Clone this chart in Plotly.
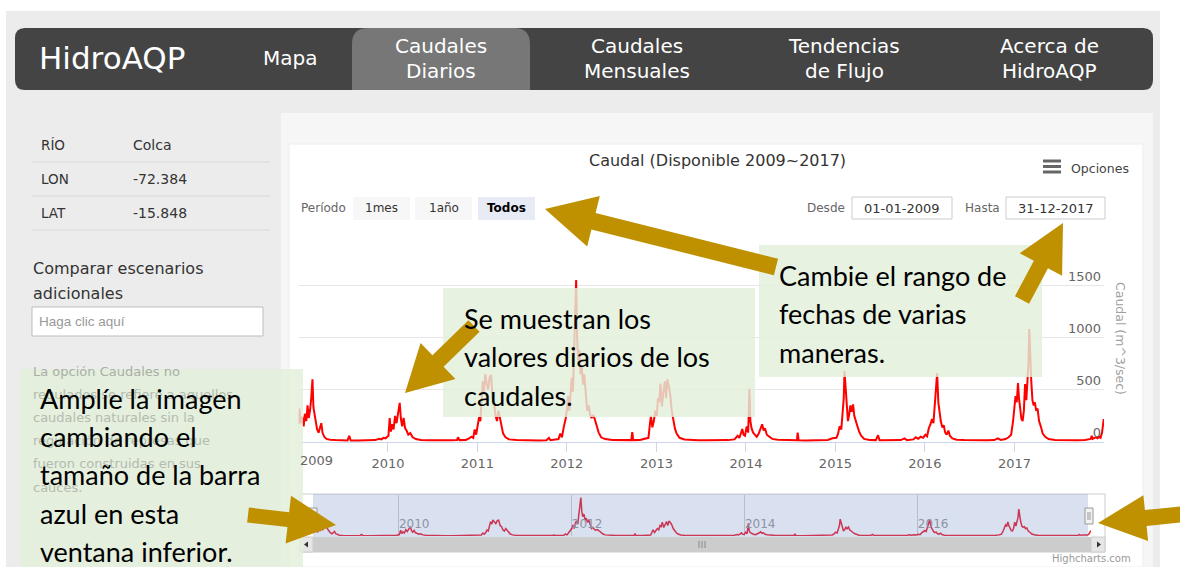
import math
import plotly.graph_objects as go

W, H = 1180, 567

# ---------------- DATA ----------------
# daily discharge of the Colca river, sampled at the visible turning points (m^3/s)
q2009 = [("01-01", 170), ("01-05", 320), ("01-10", 180), ("01-16", 240), ("01-22", 150), ("01-27", 270),
         ("02-02", 200), ("02-07", 350), ("02-12", 230), ("02-17", 300), ("02-22", 420), ("02-27", 600),
         ("03-03", 330), ("03-08", 250), ("03-13", 160), ("03-18", 120), ("03-24", 90), ("03-30", 150),
         ("04-04", 180), ("04-09", 90), ("04-16", 50), ("04-25", 30), ("05-10", 22), ("06-01", 18),
         ("06-25", 16), ("07-20", 15), ("07-27", 60), ("08-02", 15), ("08-30", 14), ("09-25", 16),
         ("10-20", 20), ("11-10", 18), ("11-26", 30), ("12-05", 25), ("12-14", 40), ("12-22", 35)]
q2010 = [("01-03", 60), ("01-08", 230), ("01-13", 100), ("01-18", 170), ("01-24", 120), ("01-30", 250),
         ("02-05", 180), ("02-12", 300), ("02-18", 375), ("02-23", 220), ("02-28", 150), ("03-06", 230),
         ("03-12", 130), ("03-18", 110), ("03-25", 70), ("04-02", 85), ("04-12", 45), ("04-25", 28),
         ("05-15", 20), ("06-15", 17), ("07-15", 15), ("08-15", 14), ("09-15", 16), ("10-10", 18),
         ("10-14", 45), ("10-20", 18), ("11-15", 20), ("11-28", 35), ("12-08", 50), ("12-15", 40),
         ("12-21", 120), ("12-27", 70)]
q2011 = [("01-03", 150), ("01-08", 240), ("01-13", 200), ("01-18", 420), ("01-23", 580), ("01-28", 480),
         ("02-02", 650), ("02-08", 560), ("02-14", 500), ("02-20", 620), ("02-26", 640), ("03-04", 420),
         ("03-10", 380), ("03-16", 250), ("03-22", 200), ("03-28", 300), ("04-03", 220), ("04-09", 140),
         ("04-16", 80), ("04-26", 45), ("05-10", 25), ("06-10", 18), ("07-10", 16), ("08-10", 15),
         ("09-10", 15), ("10-10", 17), ("10-20", 40), ("10-26", 17), ("11-15", 20), ("11-28", 28),
         ("12-05", 80), ("12-12", 45), ("12-20", 150), ("12-27", 220)]
q2012 = [("01-02", 320), ("01-06", 440), ("01-11", 300), ("01-16", 520), ("01-21", 615), ("01-26", 480),
         ("01-31", 900), ("02-04", 1100), ("02-08", 1550), ("02-12", 1000), ("02-16", 780), ("02-21", 880),
         ("02-26", 650), ("03-02", 720), ("03-07", 550), ("03-12", 650), ("03-18", 420), ("03-24", 300),
         ("03-30", 350), ("04-05", 260), ("04-11", 230), ("04-18", 260), ("04-25", 210), ("05-02", 150),
         ("05-10", 90), ("05-20", 45), ("06-05", 28), ("07-05", 20), ("08-05", 17), ("09-05", 16),
         ("09-20", 18), ("09-24", 95), ("09-28", 18), ("10-25", 20), ("11-20", 30), ("11-29", 40),
         ("12-04", 150), ("12-09", 250), ("12-15", 140), ("12-21", 200), ("12-27", 300)]
q2013 = [("01-02", 250), ("01-07", 420), ("01-12", 380), ("01-17", 560), ("01-23", 340), ("01-29", 480),
         ("02-04", 580), ("02-09", 420), ("02-14", 600), ("02-20", 540), ("02-26", 450), ("03-04", 300),
         ("03-10", 200), ("03-17", 130), ("03-24", 80), ("04-05", 40), ("04-25", 25), ("05-20", 20),
         ("06-20", 17), ("07-20", 16), ("08-20", 15), ("09-20", 16), ("10-20", 18), ("11-15", 25),
         ("11-28", 60), ("12-05", 40), ("12-12", 90), ("12-17", 125), ("12-22", 70), ("12-28", 60)]
q2014 = [("01-04", 150), ("01-10", 90), ("01-15", 510), ("01-19", 200), ("01-24", 130), ("01-30", 90),
         ("02-06", 70), ("02-14", 50), ("02-22", 80), ("03-01", 120), ("03-08", 170), ("03-14", 110),
         ("03-20", 130), ("03-27", 70), ("04-05", 50), ("04-18", 30), ("05-10", 22), ("06-10", 18),
         ("07-10", 16), ("07-28", 17), ("07-31", 90), ("08-04", 17), ("09-01", 15), ("10-01", 16),
         ("11-01", 18), ("12-01", 20), ("12-20", 35)]
q2015 = [("01-05", 40), ("01-12", 80), ("01-18", 150), ("01-25", 120), ("01-30", 270), ("02-04", 420),
         ("02-07", 680), ("02-11", 520), ("02-16", 300), ("02-21", 200), ("02-26", 260), ("03-03", 350),
         ("03-08", 290), ("03-14", 360), ("03-19", 250), ("03-25", 190), ("04-01", 150), ("04-08", 100),
         ("04-16", 60), ("04-28", 30), ("05-20", 20), ("06-15", 18), ("06-24", 65), ("06-30", 17),
         ("07-30", 16), ("08-30", 15), ("09-25", 18), ("10-10", 35), ("10-20", 18), ("11-15", 25),
         ("11-25", 45), ("12-05", 30), ("12-15", 50), ("12-25", 40)]
q2016 = [("01-03", 70), ("01-10", 55), ("01-17", 130), ("01-24", 170), ("01-30", 220), ("02-05", 180),
         ("02-11", 350), ("02-16", 500), ("02-20", 660), ("02-25", 380), ("03-01", 250), ("03-06", 200),
         ("03-12", 140), ("03-18", 160), ("03-24", 90), ("03-30", 70), ("04-06", 110), ("04-12", 60),
         ("04-22", 35), ("05-10", 22), ("06-10", 18), ("07-10", 16), ("08-10", 15), ("09-10", 16),
         ("10-10", 18), ("10-25", 35), ("11-05", 20), ("11-25", 28), ("12-08", 45), ("12-18", 70),
         ("12-26", 200)]
q2017 = [("01-01", 330), ("01-05", 440), ("01-10", 380), ("01-15", 565), ("01-19", 420), ("01-24", 300),
         ("01-29", 220), ("02-03", 200), ("02-08", 300), ("02-13", 555), ("02-18", 400), ("02-23", 600),
         ("02-27", 750), ("03-02", 1080), ("03-06", 700), ("03-10", 590), ("03-15", 400), ("03-20", 350),
         ("03-25", 380), ("03-30", 300), ("04-05", 320), ("04-11", 200), ("04-18", 150), ("04-26", 80),
         ("05-06", 50), ("05-20", 28), ("06-15", 20), ("07-15", 17), ("08-15", 16), ("09-15", 17),
         ("10-15", 20), ("10-30", 25), ("11-08", 30), ("11-12", 60), ("11-16", 30), ("11-28", 45),
         ("12-06", 35), ("12-12", 50), ("12-18", 40), ("12-24", 90), ("12-28", 150), ("12-31", 220)]

y_ticks = [0, 500, 1000, 1500, 2000]
y_tick_text = ["0", "500", "1000", "1500", ""]
x_years = ["2010", "2011", "2012", "2013", "2014", "2015", "2016", "2017"]
nav_years = ["2010", "2012", "2014", "2016"]

nav_items = [("Mapa",), ("Caudales", "Diarios"), ("Caudales", "Mensuales"),
             ("Tendencias", "de Flujo"), ("Acerca de", "HidroAQP")]
side_table = [("RÍO", "Colca"), ("LON", "-72.384"), ("LAT", "-15.848")]
side_paragraph = ["La opción Caudales no", "regulados se refiere a aquellos",
                  "caudales naturales sin la", "regulación de represas que",
                  "fueron construidas en sus", "cauces."]
range_buttons = ["1mes", "1año", "Todos"]
fecha_desde, fecha_hasta = "01-01-2009", "31-12-2017"

note_values = ["Se muestran los", "valores diarios de los", "caudales."]
note_range = ["Cambie el rango de", "fechas de varias", "maneras."]
note_zoom = ["Amplíe la imagen", "cambiando el", "tamaño de la barra", "azul en esta",
             "ventana inferior."]

# ---------------- build series ----------------
fechas, caudal = [], []
for anio, serie in [(2009, q2009), (2010, q2010), (2011, q2011), (2012, q2012), (2013, q2013),
                    (2014, q2014), (2015, q2015), (2016, q2016), (2017, q2017)]:
    for md, v in serie:
        fechas.append(f"{anio}-{md}")
        caudal.append(v)


def X(x):
    return x / W


def Y(y):
    return 1 - y / H


shapes = []
annotations = []


def rect(x0, y0, x1, y1, fill, line=None, lw=1, layer="below", opacity=1):
    shapes.append(dict(type="rect", xref="paper", yref="paper", x0=X(x0), x1=X(x1), y0=Y(y1), y1=Y(y0),
                       fillcolor=fill, line=dict(color=line if line else "rgba(0,0,0,0)", width=lw if line else 0),
                       layer=layer, opacity=opacity))


def seg(x0, y0, x1, y1, color, w=1, layer="below"):
    shapes.append(dict(type="line", xref="paper", yref="paper", x0=X(x0), y0=Y(y0), x1=X(x1), y1=Y(y1),
                       line=dict(color=color, width=w), layer=layer))


def poly(pts, fill, layer="below"):
    p = "M " + " L ".join(f"{X(a):.5f},{Y(b):.5f}" for a, b in pts) + " Z"
    shapes.append(dict(type="path", xref="paper", yref="paper", path=p, fillcolor=fill,
                       line=dict(width=0, color="rgba(0,0,0,0)"), layer=layer))


def rrect(x0, y0, x1, y1, r, fill, top_only=False, layer="below"):
    rb = 0 if top_only else r
    P = lambda a, b: f"{X(a):.5f},{Y(b):.5f}"
    s = f"M {P(x0 + r, y0)} L {P(x1 - r, y0)} Q {P(x1, y0)} {P(x1, y0 + r)} L {P(x1, y1 - rb)} "
    if rb:
        s += f"Q {P(x1, y1)} {P(x1 - rb, y1)} "
    s += f"L {P(x0 + rb, y1)} "
    if rb:
        s += f"Q {P(x0, y1)} {P(x0, y1 - rb)} "
    s += f"L {P(x0, y0 + r)} Q {P(x0, y0)} {P(x0 + r, y0)} Z"
    shapes.append(dict(type="path", xref="paper", yref="paper", path=s, fillcolor=fill,
                       line=dict(width=0, color="rgba(0,0,0,0)"), layer=layer))


def arrow(tail, tip, sw, hw, hl, color="#bf9000"):
    (x0, y0), (x1, y1) = tail, tip
    L = math.hypot(x1 - x0, y1 - y0)
    ux, uy = (x1 - x0) / L, (y1 - y0) / L
    nx, ny = -uy, ux
    bx, by = x1 - ux * hl, y1 - uy * hl
    pts = [(x0 + nx * sw / 2, y0 + ny * sw / 2), (bx + nx * sw / 2, by + ny * sw / 2),
           (bx + nx * hw / 2, by + ny * hw / 2), (x1, y1),
           (bx - nx * hw / 2, by - ny * hw / 2), (bx - nx * sw / 2, by - ny * sw / 2),
           (x0 - nx * sw / 2, y0 - ny * sw / 2)]
    poly(pts, color, layer="above")


def txt(x, y, s, size, color="#333", family="DejaVu Sans", xanchor="left", yanchor="middle",
        angle=0, xref="paper"):
    annotations.append(dict(x=X(x) if xref == "paper" else x, y=Y(y), xref=xref, yref="paper", text=s,
                            showarrow=False, font=dict(size=size, color=color, family=family),
                            xanchor=xanchor, yanchor=yanchor, textangle=angle, borderpad=0))


PAGE = "DejaVu Sans"
CHART = "DejaVu Sans"
NOTE = "Lato"

# ---------------- page background ----------------
rect(6, 11, 1160, 567, "#ececec")
rrect(15, 28, 1153, 90, 10, "#444444")
rrect(352, 28, 530, 90, 16, "#777777", top_only=True)

txt(38, 58, "HidroAQP", 31, "#ffffff", PAGE)
nav_x = [290, 441, 637, 844, 1049]
for cx, item in zip(nav_x, nav_items):
    if len(item) == 1:
        txt(cx, 58, item[0], 20, "#ffffff", PAGE, xanchor="center")
    else:
        txt(cx, 46, item[0], 20, "#ffffff", PAGE, xanchor="center")
        txt(cx, 71, item[1], 20, "#ffffff", PAGE, xanchor="center")

# sidebar
for i, (k, v) in enumerate(side_table):
    yy = 145 + 34 * i
    txt(40, yy, k, 13.5, "#333333", PAGE)
    txt(132, yy, v, 14, "#333333", PAGE)
    seg(32, 162 + 34 * i, 270, 162 + 34 * i, "#d8d8d8")
txt(32, 268, "Comparar escenarios", 16, "#333333", PAGE)
txt(32, 293, "adicionales", 16, "#333333", PAGE)
rect(32, 307, 263, 336, "#ffffff", "#bdbdbd")
txt(38, 321, "Haga clic aquí", 13.5, "#999999", "Liberation Sans")
for i, s in enumerate(side_paragraph):
    txt(32, 371 + 23.2 * i, s, 13, "#b3bbb0" if i else "#a9aea6", PAGE)

# chart container
rect(281, 113, 1153, 567, "#f6f6f6")
rect(289, 144, 1143, 567, "#ffffff", "#eeeeee")

# title / menu
txt(717, 161, "Caudal (Disponible 2009~2017)", 16, "#333333", CHART, xanchor="center")
for yy in (161, 166.5, 172):
    seg(1043, yy, 1061, yy, "#666666", 3)
txt(1070, 168, "Opciones", 12.5, "#444444", CHART)

# range selector
txt(300, 208, "Período", 12, "#666666", CHART)
btn_x = [(353, 410), (415, 472), (478, 535)]
for (a, b), lab in zip(btn_x, range_buttons):
    sel = lab == "Todos"
    rect(a, 197, b, 220, "#e6ebf5" if sel else "#f7f7f7")
    txt((a + b) / 2, 208, f"<b>{lab}</b>" if sel else lab, 12, "#000000" if sel else "#333333", CHART,
        xanchor="center")
txt(806, 208, "Desde", 12, "#666666", CHART)
rect(852, 197, 952, 219, "#ffffff", "#cccccc")
txt(902, 208, fecha_desde, 13, "#333333", CHART, xanchor="center")
txt(964, 208, "Hasta", 12, "#666666", CHART)
rect(1006, 197, 1105, 219, "#ffffff", "#cccccc")
txt(1055.5, 208, fecha_hasta, 13, "#333333", CHART, xanchor="center")

# y-axis title and first year label
txt(1121, 338, "Caudal (m^3/sec)", 12.5, "#a0a0a0", CHART, xanchor="center", angle=90)
txt("2009-01-01", 460, "2009", 13, "#666666", CHART, xanchor="left", xref="x")

# navigator frame + scrollbar
rect(300, 494, 1105, 552, "#ffffff", "#cccccc")
rect(300, 537, 1105, 552, "#cccccc")
rect(300, 537, 313, 552, "#e6e6e6", "#cccccc")
rect(1091, 537, 1105, 552, "#e6e6e6", "#cccccc")
poly([(304, 544.5), (308, 541.5), (308, 547.5)], "#333333")
poly([(1101, 544.5), (1097, 541.5), (1097, 547.5)], "#333333")
for xx in (699, 702, 705):
    seg(xx, 541, xx, 548, "#888888", 1)
txt(1132, 558, "Highcharts.com", 10, "#999999", CHART, xanchor="right")

# navigator mask + handles (above the series)
rect(313, 494, 1088, 537, "rgba(102,133,194,0.25)", layer="above")
for hx in (309, 1085):
    rect(hx, 508, hx + 8, 524, "#f2f2f2", "#999999", layer="above")
    seg(hx + 3, 512, hx + 3, 520, "#999999", 1, layer="above")
    seg(hx + 5, 512, hx + 5, 520, "#999999", 1, layer="above")

# translucent green notes (over the chart)
GREEN = "rgb(226,239,218)"
rect(443, 288, 755, 417, GREEN, layer="above", opacity=0.82)
rect(759, 245, 1042, 377, GREEN, layer="above", opacity=0.82)
rect(20, 369, 303, 567, GREEN, layer="above", opacity=0.82)

for i, s in enumerate(note_values):
    txt(463, 318 + 38.5 * i, s, 27, "#000000", NOTE)
for i, s in enumerate(note_range):
    txt(778, 275 + 38.5 * i, s, 27, "#000000", NOTE)
for i, s in enumerate(note_zoom):
    txt(39, 398 + 38.4 * i, s, 27, "#000000", NOTE)

# gold arrows
arrow((776, 267), (545, 209), 17, 52, 50)
arrow((474, 326), (405, 393), 16, 50, 46)
arrow((1022, 300), (1063, 223), 16, 48, 47)
arrow((248, 515), (336, 525), 15, 48, 48)
arrow((1185, 514), (1098, 523), 16, 46, 48)

# ---------------- figure ----------------
fig = go.Figure()
fig.add_trace(go.Scatter(x=fechas, y=caudal, mode="lines", line=dict(color="#ff0000", width=2),
                         xaxis="x", yaxis="y", hoverinfo="skip", showlegend=False))
fig.add_trace(go.Scatter(x=fechas, y=caudal, mode="lines", line=dict(color="#ee1c2c", width=1.5),
                         xaxis="x2", yaxis="y2", hoverinfo="skip", showlegend=False))

fig.update_layout(
    width=W, height=H, margin=dict(l=0, r=0, t=0, b=0),
    paper_bgcolor="#ffffff", plot_bgcolor="rgba(0,0,0,0)", showlegend=False,
    xaxis=dict(domain=[X(298.5), X(1104)], range=["2009-01-01", "2018-01-01"], type="date",
               tickvals=[f"{y}-01-01" for y in x_years], ticktext=x_years,
               ticks="outside", ticklen=9, tickcolor="#ccd6eb", showline=True, linecolor="#ccd6eb",
               showgrid=False, zeroline=False, tickfont=dict(family=CHART, size=13, color="#666666"),
               anchor="y", fixedrange=True),
    yaxis=dict(domain=[Y(442), Y(233)], range=[0, 2000], side="right", tickvals=y_ticks,
               ticktext=y_tick_text, ticklabelposition="inside top", gridcolor="#e6e6e6",
               showline=False, zeroline=False, tickfont=dict(family=CHART, size=13, color="#666666"),
               anchor="x", fixedrange=True),
    xaxis2=dict(domain=[X(312.5), X(1091)], range=["2009-01-01", "2018-01-01"], type="date",
                tickvals=[f"{y}-01-01" for y in nav_years], ticktext=nav_years,
                ticks="", ticklabelposition="inside right", showgrid=True, gridcolor="#cfcfcf",
                showline=False, zeroline=False, tickfont=dict(family=CHART, size=12, color="#999999"),
                anchor="y2", fixedrange=True),
    yaxis2=dict(domain=[Y(536), Y(495)], range=[0, 1650], visible=False, anchor="x2", fixedrange=True),
    shapes=shapes, annotations=annotations,
)

fig.write_html("out.html", config=dict(displayModeBar=False, staticPlot=True),
               post_script="document.body.style.margin='0';")
